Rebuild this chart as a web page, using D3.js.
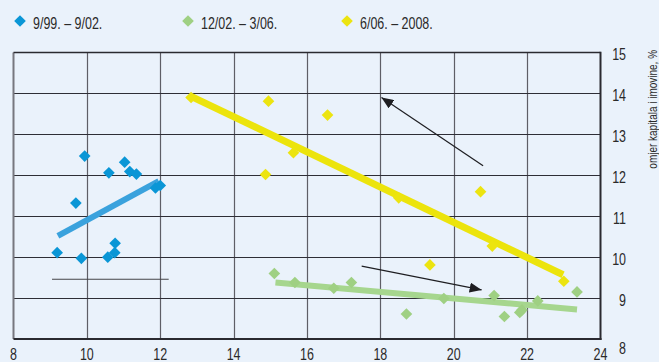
<!DOCTYPE html>
<html>
<head>
<meta charset="utf-8">
<script src="https://cdn.jsdelivr.net/npm/d3@7"></script>
<style>
    body { margin: 0; background: #eaf2fb; }
    text { font-family: "Liberation Sans", Arial, sans-serif; }
</style>
</head>
<body>
<div id="chart"></div>
<script>
// Legenda e boje serija
var legendLabels = ["9/99. – 9/02.", "12/02. – 3/06.", "6/06. – 2008."];
var pointColors = ["#0a96d6", "#9fd083", "#ece410"];
var lineColors = ["#3aa2dd", "#a6d68e", "#ece40c"];

// Točke: 9/99. – 9/02.
var blueX = [9.19, 9.85, 9.94, 9.70, 10.60, 11.03, 11.17, 11.35, 10.77, 10.76, 10.57, 11.87, 12.00];
var blueY = [10.11, 9.97, 12.47, 11.32, 12.06, 12.32, 12.09, 12.03, 10.34, 10.11, 10.00, 11.69, 11.75];

// Točke: 12/02. – 3/06.
var greenX = [15.11, 15.67, 16.73, 17.21, 18.71, 19.73, 21.10, 21.38, 21.80, 21.86, 22.29, 23.36];
var greenY = [9.60, 9.38, 9.24, 9.38, 8.61, 8.99, 9.06, 8.55, 8.65, 8.71, 8.93, 9.15];

// Točke: 6/06. – 2008.
var yellowX = [12.84, 14.95, 16.56, 15.63, 14.87, 18.50, 20.73, 21.05, 19.35, 23.00];
var yellowY = [13.90, 13.81, 13.47, 12.55, 12.02, 11.45, 11.60, 10.27, 9.81, 9.41];

// Linije trenda (početak i kraj)
var blueTrend = [[9.21, 10.52], [11.96, 11.86]];
var greenTrend = [[15.14, 9.38], [23.36, 8.72]];
var yellowTrend = [[12.84, 13.93], [22.98, 9.57]];

// Strelice i pomoćna linija
var arrowUp = [[20.80, 12.23], [18.03, 13.90]];
var arrowDown = [[17.49, 9.78], [20.76, 9.20]];
var baseLine = [[9.05, 9.46], [12.23, 9.46]];

// Oznake osi
var xTicks = [8, 10, 12, 14, 16, 18, 20, 22, 24];
var yTicks = [8, 9, 10, 11, 12, 13, 14, 15];
var yTitle = "omjer kapitala i imovine, %";

var width = 659, height = 362;
var plot = { left: 13.5, right: 600.5, top: 52.5, bottom: 339 };
var narrow = 0.78; // sužavanje fonta (kao condensed)

var svg = d3.select("#chart").append("svg")
    .attr("width", width)
    .attr("height", height);

svg.append("rect")
    .attr("width", width)
    .attr("height", height)
    .style("fill", "#eaf2fb");

var x = d3.scaleLinear().domain([8, 24]).range([plot.left, plot.right]);
var y = d3.scaleLinear().domain([8, 15]).range([plot.bottom, plot.top]);

// Mreža
var grid = svg.append("g").attr("class", "grid");

grid.selectAll(".vline")
    .data(xTicks.slice(1, -1))
    .enter().append("line")
    .attr("x1", d => Math.round(x(d)) + 0.5)
    .attr("x2", d => Math.round(x(d)) + 0.5)
    .attr("y1", plot.top)
    .attr("y2", plot.bottom)
    .style("stroke", "#5e5e66")
    .style("stroke-width", 1.2);

grid.selectAll(".hline")
    .data(yTicks.slice(1, -1))
    .enter().append("line")
    .attr("x1", plot.left)
    .attr("x2", plot.right)
    .attr("y1", d => Math.round(y(d)) + 0.5)
    .attr("y2", d => Math.round(y(d)) + 0.5)
    .style("stroke", "#2e2e36")
    .style("stroke-width", 1);

// Okvir
svg.append("line")
    .attr("x1", plot.left).attr("x2", plot.left)
    .attr("y1", plot.top).attr("y2", plot.bottom)
    .style("stroke", "#77777f").style("stroke-width", 2);
svg.append("line")
    .attr("x1", plot.left).attr("x2", plot.right)
    .attr("y1", plot.top).attr("y2", plot.top)
    .style("stroke", "#2a2a30").style("stroke-width", 1.5);
svg.append("line")
    .attr("x1", plot.left).attr("x2", plot.right + 1)
    .attr("y1", plot.bottom).attr("y2", plot.bottom)
    .style("stroke", "#2a2a30").style("stroke-width", 2);
svg.append("line")
    .attr("x1", plot.right).attr("x2", plot.right)
    .attr("y1", plot.top - 0.75).attr("y2", plot.bottom + 1)
    .style("stroke", "#2a2a30").style("stroke-width", 2);

// Oznake na osi x
svg.selectAll(".xlabel")
    .data(xTicks)
    .enter().append("text")
    .attr("transform", d => `translate(${x(d)},359.5) scale(${narrow},1)`)
    .attr("text-anchor", "middle")
    .style("font-size", "16px")
    .style("fill", "#2a2a2a")
    .text(d => d);

// Oznake na osi y (donja je pomaknuta niže, kao u izvorniku)
svg.selectAll(".ylabel")
    .data(yTicks)
    .enter().append("text")
    .attr("transform", d => `translate(626,${y(d) + (d === 8 ? 9 : 2)}) scale(${narrow},1)`)
    .attr("dy", "0.35em")
    .attr("text-anchor", "end")
    .style("font-size", "16px")
    .style("fill", "#2a2a2a")
    .text(d => d);

svg.append("text")
    .attr("transform", `translate(657,50) rotate(-90) scale(${narrow},1)`)
    .attr("text-anchor", "end")
    .style("font-size", "12.8px")
    .style("fill", "#2a2a2a")
    .text(yTitle);

// Linije trenda
var line = d3.line().x(d => x(d[0])).y(d => y(d[1]));

[[blueTrend, 6], [greenTrend, 6], [yellowTrend, 7]].forEach(function(t, i) {
    svg.append("path")
        .attr("d", line(t[0]))
        .style("fill", "none")
        .style("stroke", lineColors[i])
        .style("stroke-width", t[1]);
});

// Točke
var diamond = d3.symbol().type(d3.symbolSquare).size(68);
var series = [
    { xs: blueX, ys: blueY },
    { xs: greenX, ys: greenY },
    { xs: yellowX, ys: yellowY }
];

series.forEach(function(s, i) {
    svg.append("g").selectAll("path")
        .data(s.xs.map((v, j) => [v, s.ys[j]]))
        .enter().append("path")
        .attr("d", diamond)
        .attr("transform", d => `translate(${x(d[0])},${y(d[1])}) rotate(45)`)
        .style("fill", pointColors[i]);
});

// Strelice
svg.append("defs").append("marker")
    .attr("id", "arrow")
    .attr("viewBox", "0 0 12 10")
    .attr("refX", 12)
    .attr("refY", 5)
    .attr("markerWidth", 12)
    .attr("markerHeight", 10)
    .attr("markerUnits", "userSpaceOnUse")
    .attr("orient", "auto")
    .append("path")
    .attr("d", "M0,0 L12,5 L0,10 Z")
    .style("fill", "#1e1e22");

[arrowUp, arrowDown].forEach(function(a) {
    svg.append("path")
        .attr("d", line(a))
        .style("stroke", "#1e1e22")
        .style("stroke-width", 1.2)
        .attr("marker-end", "url(#arrow)");
});

svg.append("path")
    .attr("d", line(baseLine))
    .style("stroke", "#444448")
    .style("stroke-width", 1.2);

// Legenda
var legendX = [20, 188, 347];
var legend = svg.selectAll(".legend")
    .data(legendLabels)
    .enter().append("g")
    .attr("transform", (d, i) => `translate(${legendX[i]},21)`);

legend.append("path")
    .attr("d", d3.symbol().type(d3.symbolSquare).size(68))
    .attr("transform", "rotate(45)")
    .style("fill", (d, i) => pointColors[i]);

legend.append("text")
    .attr("transform", `translate(13,7.5) scale(${narrow},1)`)
    .style("font-size", "16px")
    .style("fill", "#2a2a2a")
    .text(d => d);
</script>
</body>
</html>
